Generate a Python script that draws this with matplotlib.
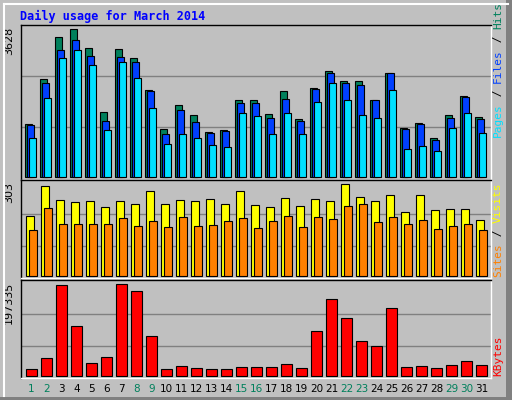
import matplotlib
matplotlib.use("Agg")
import matplotlib.pyplot as plt
from matplotlib.patches import Rectangle
from matplotlib.lines import Line2D
import numpy as np

days = list(range(1, 32))
weekend = [1, 2, 8, 9, 15, 16, 22, 23, 29, 30]
hits = [1288, 2395, 3429, 3628, 3158, 1583, 3134, 2912, 2133, 1173, 1755, 1509, 1099, 1140, 1886, 1886,
        1542, 2108, 1419, 2182, 2600, 2355, 2355, 1886, 2551, 1198, 1321, 952, 1518, 1985, 1469]
files = [1263, 2305, 3109, 3355, 2970, 1370, 2945, 2822, 2108, 1050, 1641, 1345, 1075, 1124, 1813, 1813,
         1444, 1912, 1370, 2157, 2551, 2305, 2256, 1886, 2551, 1173, 1296, 903, 1444, 1961, 1420]
pages = [952, 1936, 2920, 3109, 2748, 1148, 2822, 2428, 1690, 804, 1050, 952, 780, 731, 1567, 1493,
         1050, 1567, 1050, 1838, 2305, 1886, 1518, 1444, 2133, 681, 755, 632, 1198, 1567, 1075]
visits = [197, 296, 250, 243, 247, 227, 247, 237, 280, 237, 250, 247, 253, 237, 280, 234,
          227, 257, 230, 253, 247, 303, 260, 247, 267, 210, 267, 217, 220, 220, 184]
sites = [151, 224, 171, 171, 171, 171, 191, 164, 181, 161, 194, 164, 167, 181, 191, 158,
         181, 197, 161, 194, 187, 230, 237, 177, 194, 171, 184, 154, 164, 171, 151]
kbytes = [13684, 37450, 195175, 106590, 26647, 39611, 197335, 182211, 84984, 13684, 20166, 15844,
          13684, 13684, 18005, 18005, 18005, 24487, 15844, 95787, 164926, 123875, 74181, 63378,
          145481, 18005, 20166, 15844, 22326, 30969, 22326]

BG = "#C0C0C0"
W, H = 512, 400
fig = plt.figure(figsize=(5.12, 4.0), dpi=100, facecolor=BG)

# outer 3D frame
fig.add_artist(Line2D([4/W, 4/W], [1-4/H, 4/H], color="white", lw=1.5))
fig.add_artist(Line2D([4/W, 1-4/W], [1-4/H, 1-4/H], color="white", lw=1.5))
fig.add_artist(Rectangle((1-6/W, 0), 6/W, 1, transform=fig.transFigure, color="#808080", lw=0))
fig.add_artist(Rectangle((0, 0), 1, 3/H, transform=fig.transFigure, color="#808080", lw=0))

fig.text(20/W, 1-16/H, "Daily usage for March 2014", color="#0000FF", fontsize=8.5,
         fontweight="bold", family="DejaVu Sans Mono", va="center", ha="left")

X0, X1 = 21, 491
xl = ((X0-25.3)/15, (X1-25.3)/15)
idx = np.arange(len(days))

def mkax(ytop, ybot, base, mpx, vmax, fr):
    ax = fig.add_axes([X0/W, 1-ybot/H, (X1-X0)/W, (ybot-ytop)/H])
    ax.set_facecolor(BG)
    s = vmax/(base-mpx)
    ax.set_ylim(-(ybot-base)*s, (base-ytop)*s)
    ax.set_xlim(*xl)
    for f in fr:
        ax.axhline(vmax*f, color="#808080", lw=1, zorder=0)
    ax.set_xticks([]); ax.set_yticks([])
    for sp in ax.spines.values():
        sp.set_color("black"); sp.set_linewidth(1)
    ax.spines["bottom"].set_color("white")
    ax.spines["right"].set_color("white")
    ax.text(-14/470*0+(-0.0145), 1-2/(ybot-ytop), f"{vmax}", transform=ax.transAxes, rotation=90,
            ha="right", va="top", fontsize=8, color="black")
    return ax

kw = dict(align="edge", edgecolor="black", linewidth=0.8)
a1 = mkax(25, 180, 176.7, 29.3, 3628, [0.34, 0.68])
a1.bar(idx, hits, width=7/15, color="#00805C", **kw)
a1.bar(idx+2/15, files, width=7/15, color="#0040FF", **kw)
a1.bar(idx+4/15, pages, width=7/15, color="#00E0FF", **kw)

a2 = mkax(180, 278, 276, 184.3, 303, [0.324, 0.68])
a2.bar(idx+0.7/15, visits, width=8/15, color="#FFFF00", **kw)
a2.bar(idx+3.7/15, sites, width=8/15, color="#FF8000", **kw)

a3 = mkax(280, 378, 375.7, 284.3, 197335, [0.32, 0.68])
a3.bar(idx+0.7/15, kbytes, width=11/15, color="#FF0000", **kw)

for i, d in zip(idx, days):
    a3.text(i+6.2/15, -0.06, str(d), transform=a3.get_xaxis_transform(), ha="center", va="top",
            fontsize=7.5, color="#00805C" if d in weekend else "black")

def rlabel(ypix, parts):
    # parts listed bottom to top
    t = None
    y = ypix
    for txt, col in parts:
        tt = fig.text(498/W, 1-y/H, txt, rotation=90, color=col, fontsize=8,
                      family="DejaVu Sans Mono", ha="center", va="bottom")
        fig.canvas.draw()
        bb = tt.get_window_extent()
        y -= bb.height
    return

rlabel(137, [("Pages", "#00E0FF"), (" / ", "black"), ("Files", "#0040FF"), (" / ", "black"), ("Hits", "#00805C")])
rlabel(277, [("Sites", "#FF8000"), (" / ", "black"), ("Visits", "#FFFF00")])
rlabel(376, [("KBytes", "#FF0000")])

fig.savefig("out.png", dpi=100, facecolor=BG)
